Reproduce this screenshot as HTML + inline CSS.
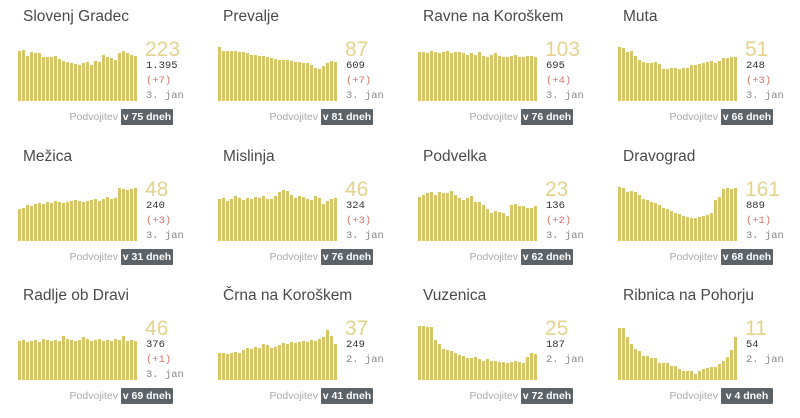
<!DOCTYPE html>
<html><head><meta charset="utf-8"><style>
body{margin:0;width:800px;height:415px;background:#fff;font-family:"Liberation Sans",sans-serif;position:relative;overflow:hidden}
.c{position:absolute;width:200px;height:139px}
.t{position:absolute;left:23px;top:8px;font-size:15.5px;color:#4a4a4a;white-space:nowrap}
.b{position:absolute;left:18px;top:44px;width:122px;height:57px}
.b div{position:absolute;bottom:0;width:3px;background:#d8c565}
.n{position:absolute;left:145px;top:38px;font-size:21px;color:#e3d38c}
.v{position:absolute;left:146px;font-family:"Liberation Mono",monospace;font-size:10.5px}
.p{position:absolute;right:82px;top:111px;font-size:10.5px;color:#aaa}
.d{position:absolute;left:121px;top:109px;width:52px;height:16px;background:#5b6268;color:#fff;font-weight:bold;font-size:10.5px;line-height:16px;text-align:center;border-radius:1px}
</style></head><body>
<div id="root"></div>
<script>
var D=[
["Slovenj Gradec","223","1.395","(+7)","3. jan",75,[.93,.94,.84,.9,.88,.88,.82,.82,.82,.83,.78,.74,.72,.7,.68,.66,.7,.72,.66,.74,.73,.85,.82,.8,.75,.88,.93,.88,.85,.84]],
["Prevalje","87","609","(+7)","3. jan",81,[1,.93,.92,.92,.92,.9,.9,.88,.86,.86,.84,.84,.82,.8,.78,.76,.76,.75,.74,.72,.72,.7,.7,.66,.62,.6,.64,.7,.74,.72]],
["Ravne na Koroškem","103","695","(+4)","3. jan",76,[.9,.9,.88,.92,.9,.88,.9,.92,.88,.9,.9,.88,.86,.88,.86,.9,.84,.82,.86,.88,.84,.82,.82,.84,.86,.82,.82,.84,.84,.82]],
["Muta","51","248","(+3)","3. jan",66,[1,.98,.9,.92,.84,.76,.72,.7,.7,.72,.68,.6,.6,.62,.62,.6,.62,.62,.66,.66,.68,.7,.72,.74,.7,.74,.8,.8,.82,.82]],
["Mežica","48","240","(+3)","3. jan",31,[.6,.62,.66,.64,.68,.7,.68,.72,.7,.74,.72,.7,.72,.74,.76,.74,.72,.74,.76,.78,.74,.78,.82,.78,.8,.98,.96,.94,.96,.98]],
["Mislinja","46","324","(+3)","3. jan",76,[.78,.8,.74,.78,.84,.8,.76,.8,.78,.82,.8,.84,.78,.78,.84,.9,.95,.92,.86,.8,.84,.82,.78,.76,.84,.8,.68,.74,.78,.8]],
["Podvelka","23","136","(+2)","3. jan",62,[.82,.85,.88,.9,.86,.9,.88,.88,.92,.85,.8,.76,.8,.84,.72,.72,.66,.6,.52,.56,.54,.52,.46,.66,.68,.64,.64,.62,.62,.64]],
["Dravograd","161","889","(+1)","3. jan",68,[1,.98,.9,.92,.9,.86,.78,.76,.72,.7,.66,.62,.6,.56,.52,.5,.46,.44,.42,.42,.44,.46,.48,.52,.76,.82,.96,.98,.96,.98]],
["Radlje ob Dravi","46","376","(+1)","3. jan",69,[.72,.74,.7,.72,.74,.7,.76,.74,.72,.74,.72,.82,.76,.74,.72,.74,.8,.76,.72,.74,.76,.72,.74,.72,.76,.74,.82,.72,.74,.72]],
["Črna na Koroškem","37","249","2. jan","",41,[.5,.5,.48,.5,.52,.5,.56,.6,.58,.62,.6,.66,.64,.6,.62,.64,.68,.66,.7,.68,.7,.72,.7,.74,.72,.76,.8,.92,.82,.66]],
["Vuzenica","25","187","2. jan","",72,[1,1,.98,.98,.74,.66,.58,.56,.54,.5,.46,.44,.4,.4,.42,.38,.36,.38,.36,.36,.34,.34,.32,.34,.36,.34,.32,.42,.5,.48]],
["Ribnica na Pohorju","11","54","2. jan","",4,[.96,.96,.8,.66,.58,.54,.44,.44,.4,.4,.32,.32,.32,.26,.26,.2,.16,.16,.16,.12,.16,.2,.22,.24,.24,.3,.36,.42,.56,.8]]
];
var h="";
D.forEach(function(d,i){
 var x=(i%4)*200, y=[0,140,279][Math.floor(i/4)];
 var bars="";d[6].forEach(function(v,j){bars+='<div style="left:'+(j*4)+'px;height:'+Math.round(v*54)+'px"></div>';});
 var vals='<div class="v" style="top:60px;color:#333">'+d[2]+'</div>';
 if(d[4]){vals+='<div class="v" style="top:75px;color:#d9756b">'+d[3]+'</div><div class="v" style="top:90px;color:#888">'+d[4]+'</div>';}
 else vals+='<div class="v" style="top:75px;color:#888">'+d[3]+'</div>';
 h+='<div class="c" style="left:'+x+'px;top:'+y+'px"><div class="t">'+d[0]+'</div><div class="b">'+bars+'</div><div class="n">'+d[1]+'</div>'+vals+'<div class="p">Podvojitev</div><div class="d">v '+d[5]+' dneh</div></div>';
});
document.getElementById("root").innerHTML=h;
</script>
</body></html>
